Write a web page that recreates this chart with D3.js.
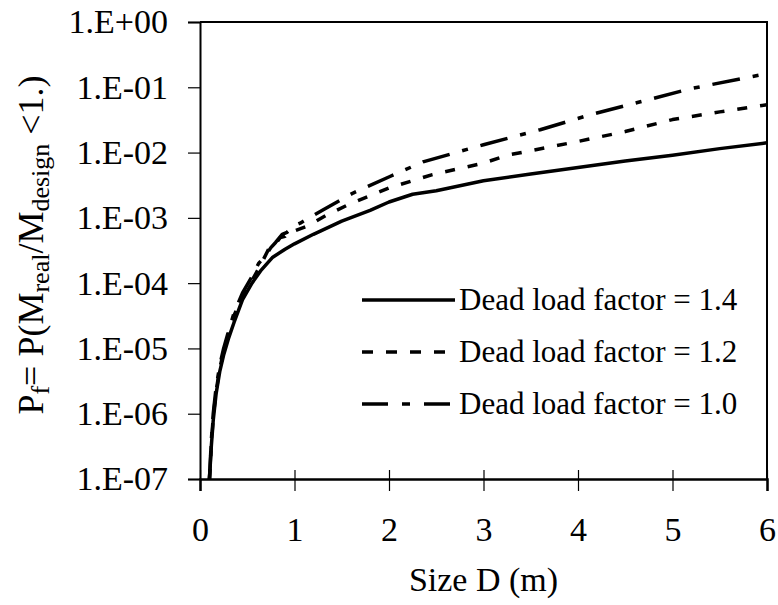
<!DOCTYPE html>
<html>
<head>
<meta charset="utf-8">
<script src="https://cdn.jsdelivr.net/npm/d3@7"></script>
<style>
    body { margin: 0; background: #fff; }
</style>
</head>
<body>
<svg id="chart"></svg>
<script>
// size D (m) and failure probability
const size14 = [0.10, 0.12, 0.14, 0.17, 0.21, 0.25, 0.30, 0.36, 0.45, 0.55, 0.65, 0.77, 0.90, 1.00, 1.20, 1.50, 1.80, 2.00, 2.25, 2.50, 3.00, 3.50, 4.00, 4.50, 5.00, 5.50, 6.00];
const pf14 = [1e-7, 3.2e-7, 7.9e-7, 2e-6, 4.5e-6, 7.9e-6, 1.4e-5, 2.5e-5, 5.6e-5, 1e-4, 1.6e-4, 2.5e-4, 3.3e-4, 4e-4, 5.6e-4, 8.9e-4, 1.3e-3, 1.75e-3, 2.3e-3, 2.6e-3, 3.7e-3, 4.7e-3, 5.9e-3, 7.4e-3, 9.1e-3, 1.15e-2, 1.41e-2];

const size12 = [0.10, 0.12, 0.14, 0.17, 0.21, 0.25, 0.30, 0.36, 0.45, 0.55, 0.65, 0.72, 0.77, 0.85, 0.90, 0.95, 1.00, 1.13, 1.34, 1.59, 2.01, 2.46, 3.00, 3.25, 4.00, 4.50, 5.00, 5.50, 6.00];
const pf12 = [1e-7, 3.5e-7, 8.9e-7, 2.2e-6, 5e-6, 8.9e-6, 1.6e-5, 3.2e-5, 6.3e-5, 1.1e-4, 2e-4, 3.2e-4, 3.5e-4, 5e-4, 5.2e-4, 6.3e-4, 6.3e-4, 7.4e-4, 1.1e-3, 1.65e-3, 2.9e-3, 4.6e-3, 6.9e-3, 9.1e-3, 1.48e-2, 2.1e-2, 3.2e-2, 4.2e-2, 5.4e-2];

const size10 = [0.10, 0.12, 0.14, 0.17, 0.21, 0.25, 0.30, 0.36, 0.45, 0.55, 0.62, 0.68, 0.75, 0.80, 0.87, 0.92, 1.00, 1.06, 1.30, 1.62, 2.01, 2.36, 3.00, 3.60, 4.13, 4.66, 5.19, 6.00];
const pf10 = [1e-7, 4e-7, 1e-6, 2.5e-6, 5.6e-6, 1e-5, 1.8e-5, 3.5e-5, 7.1e-5, 1.26e-4, 2e-4, 2.5e-4, 3.5e-4, 4.2e-4, 5.6e-4, 6e-4, 7.6e-4, 8.3e-4, 1.32e-3, 2.4e-3, 4.3e-3, 7.2e-3, 1.32e-2, 2.24e-2, 3.8e-2, 6e-2, 9.5e-2, 1.62e-1];

const seriesNames = ["Dead load factor = 1.4", "Dead load factor = 1.2", "Dead load factor = 1.0"];
const xTicks = [0, 1, 2, 3, 4, 5, 6];
const yTicks = [1e0, 1e-1, 1e-2, 1e-3, 1e-4, 1e-5, 1e-6, 1e-7];

const SERIF = '"Liberation Serif", "DejaVu Serif", serif';

class FailureChart {
    constructor(_config = {}, _data) {
        this.config = {
            parentElement: _config.parentElement,
            width: 567,
            height: 457,
            margin: { top: 22, right: 11, bottom: 126, left: 200 },
            fontSize: 34,
            titleFontSize: 36,
            subFontSize: 26,
            legendFontSize: 31,
            dashes: ["none", "10,13", "28,13,6,13"],
            legendDashes: ["none", "11,13", "26,14,8,14"],
        }
        this.data = _data;
        this.initVis();
    }

    initVis() {
        let vis = this;
        const cfg = vis.config;

        vis.svg = d3.select(cfg.parentElement)
            .attr('width', cfg.width + cfg.margin.left + cfg.margin.right)
            .attr('height', cfg.height + cfg.margin.top + cfg.margin.bottom)
            .style('font-family', SERIF);

        vis.chart = vis.svg.append('g')
            .attr('transform', `translate(${cfg.margin.left}, ${cfg.margin.top})`);

        vis.xScale = d3.scaleLinear().domain([0, 6]).range([0, cfg.width]);
        vis.yScale = d3.scaleLog().domain([1e-7, 1]).range([cfg.height, 0]);

        vis.renderVis();
    }

    renderVis() {
        let vis = this;
        const cfg = vis.config;

        const fmt = v => {
            const e = Math.round(Math.log10(v));
            return "1.E" + (e >= 0 ? "+" : "-") + String(Math.abs(e)).padStart(2, "0");
        };

        // frame (top and right)
        vis.chart.append('path')
            .attr('d', `M0,0H${cfg.width}V${cfg.height}`)
            .attr('fill', 'none')
            .attr('stroke', '#000')
            .attr('stroke-width', 2);

        const yAxis = d3.axisLeft(vis.yScale).tickValues(yTicks).tickFormat(fmt).tickSize(12).tickPadding(20);
        const yG = vis.chart.append('g').call(yAxis).attr('font-family', null);
        yG.select('.domain').attr('stroke-width', 2);
        yG.selectAll('.tick line').attr('stroke-width', 1.2);
        yG.selectAll('text').attr('font-size', cfg.fontSize).style('font-family', SERIF);

        const xAxis = d3.axisBottom(vis.xScale).tickValues(xTicks).tickFormat(d3.format('d')).tickSize(12).tickPadding(26);
        const xG = vis.chart.append('g')
            .attr('transform', `translate(0, ${cfg.height})`)
            .call(xAxis)
            .attr('font-family', null);
        xG.select('.domain').attr('stroke-width', 2.5);
        xG.selectAll('.tick line').attr('y1', -9).attr('stroke-width', 1.2);
        xG.selectAll('text').attr('font-size', cfg.fontSize).style('font-family', SERIF);

        // axis titles
        vis.chart.append('text')
            .attr('x', cfg.width / 2)
            .attr('y', cfg.height + 112)
            .attr('text-anchor', 'middle')
            .attr('font-size', cfg.fontSize)
            .style('font-family', SERIF)
            .text('Size D (m)');

        const yTitle = vis.svg.append('text')
            .attr('transform', 'translate(43, 245) rotate(-90)')
            .attr('text-anchor', 'middle')
            .attr('font-size', cfg.titleFontSize)
            .style('font-family', SERIF);
        yTitle.append('tspan').text('P');
        yTitle.append('tspan').attr('font-size', cfg.subFontSize).attr('dy', 6).text('f');
        yTitle.append('tspan').attr('dy', -6).text('= P(M');
        yTitle.append('tspan').attr('font-size', cfg.subFontSize).attr('dy', 6).text('real');
        yTitle.append('tspan').attr('dy', -6).text('/M');
        yTitle.append('tspan').attr('font-size', cfg.subFontSize).attr('dy', 6).text('design');
        yTitle.append('tspan').attr('dy', -6).text(' <1.)');

        // curves
        const line = d3.line()
            .x(d => vis.xScale(d[0]))
            .y(d => vis.yScale(d[1]));

        vis.chart.selectAll('.curve')
            .data(vis.data)
            .enter()
            .append('path')
            .attr('class', 'curve')
            .attr('d', d => line(d.points))
            .attr('fill', 'none')
            .attr('stroke', '#000')
            .attr('stroke-width', 3.5)
            .attr('stroke-linejoin', 'round')
            .attr('stroke-dasharray', (d, i) => cfg.dashes[i]);

        // legend
        const legend = vis.svg.selectAll('.legend')
            .data(vis.data)
            .enter()
            .append('g')
            .attr('class', 'legend')
            .attr('transform', (d, i) => `translate(362, ${300 + i * 52})`);

        legend.append('line')
            .attr('x1', 0)
            .attr('x2', 93)
            .attr('stroke', '#000')
            .attr('stroke-width', 3.5)
            .attr('stroke-dasharray', (d, i) => cfg.legendDashes[i]);

        legend.append('text')
            .attr('x', 97)
            .attr('dy', '0.33em')
            .attr('font-size', cfg.legendFontSize)
            .style('font-family', SERIF)
            .text(d => d.name);
    }
}

const chartData = [
    { name: seriesNames[0], points: d3.zip(size14, pf14) },
    { name: seriesNames[1], points: d3.zip(size12, pf12) },
    { name: seriesNames[2], points: d3.zip(size10, pf10) },
];

new FailureChart({ parentElement: '#chart' }, chartData);
</script>
</body>
</html>
